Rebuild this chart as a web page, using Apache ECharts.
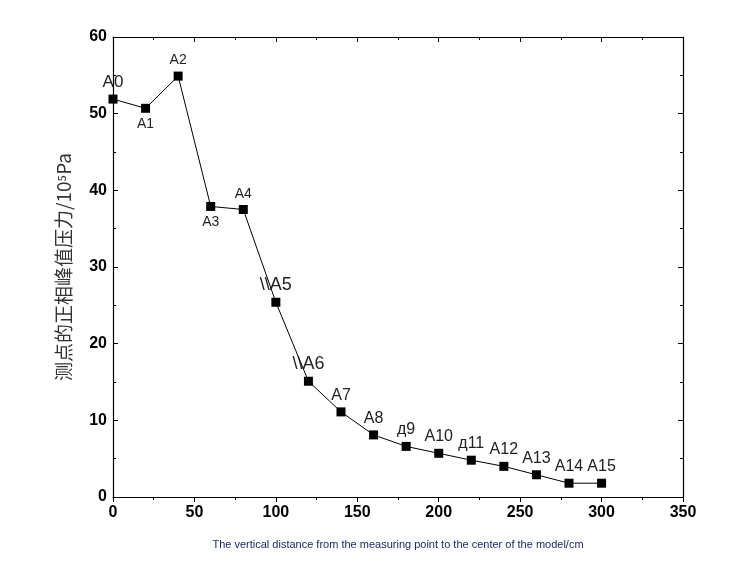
<!DOCTYPE html>
<html><head><meta charset="utf-8">
<script src="https://cdn.jsdelivr.net/npm/echarts@6/dist/echarts.min.js"></script>
<style>html,body{margin:0;padding:0;background:#fff}#c{width:745px;height:582px}</style>
</head><body><div id="c"></div>
<script>
const pointNames = ['A0','A1','A2','A3','A4','\\A5','\\A6','A7','A8','д9','A10','д11','A12','A13','A14','A15'];
const xValues = [0,20,40,60,80,100,120,140,160,180,200,220,240,260,280,300];
const yValues = [51.9,50.7,54.9,37.9,37.5,25.4,15.1,11.1,8.1,6.6,5.7,4.8,4.0,2.9,1.8,1.8];
// label style: [position, dx, dy, fontSize]
const labelStyle = [['top',12,2,17],['bottom',4,-2,14],['top',13,0,14],['bottom',-1,-4,14],['top',2,0,14],['top',6,-2,18],['top',5,-2,18],['top',8,0,16],['top',7,0,16],['top',2,0,16],['top',1,2,16],['top',0,2,16],['top',0,2,16],['top',10,2,16],['top',14,0,16],['top',15,-1,16]];
const chart = echarts.init(document.getElementById('c'));
const data = xValues.map((x,i)=>({value:[x,yValues[i]],
  label:{show:true,formatter:pointNames[i].replace(/\\/g,'\\\\'),position:labelStyle[i][0],offset:[labelStyle[i][1],labelStyle[i][2]],fontSize:labelStyle[i][3],color:'#222',fontFamily:'Arial',distance:4}}));
const axisCommon = {axisLine:{show:true,onZero:false,lineStyle:{color:'#000',width:1.2}},splitLine:{show:false}};
chart.setOption({
  animation:false,
  grid:{left:113,right:62,top:37,bottom:85},
  xAxis:[{type:'value',min:0,max:350,interval:50,...axisCommon,
    axisTick:{inside:false,length:5,lineStyle:{color:'#000'}},minorTick:{show:true,splitNumber:2,length:3,lineStyle:{color:'#000'}},
    axisLabel:{color:'#000',fontSize:16,fontWeight:'bold',fontFamily:'Arial',margin:8},
    name:'The vertical distance from the measuring point to the center of the model/cm',nameLocation:'middle',nameGap:42,
    nameTextStyle:{fontSize:11,color:'#1a2a6a',fontFamily:'Liberation Sans Narrow, Arial'}},
   {type:'value',position:'top',min:0,max:350,interval:50,...axisCommon,axisTick:{inside:true,length:5,lineStyle:{color:'#000'}},minorTick:{show:true,splitNumber:2,lineStyle:{color:'#000'}},axisLabel:{show:false}}],
  yAxis:[{type:'value',min:0,max:60,interval:10,...axisCommon,
    axisTick:{inside:true,length:5,lineStyle:{color:'#000'}},minorTick:{show:true,splitNumber:2,length:3,lineStyle:{color:'#000'}},
    axisLabel:{color:'#000',fontSize:16,fontWeight:'bold',fontFamily:'Arial',margin:6},
    name:'测点的正相峰值压力/10⁵Pa',nameLocation:'middle',nameGap:40,
    nameTextStyle:{fontSize:19,color:'#333',fontFamily:'Noto Sans CJK SC'}},
   {type:'value',position:'right',min:0,max:60,interval:10,...axisCommon,axisTick:{inside:true,length:5,lineStyle:{color:'#000'}},minorTick:{show:true,splitNumber:2,lineStyle:{color:'#000'}},axisLabel:{show:false}}],
  series:[{type:'line',data:data,symbol:'rect',symbolSize:9,itemStyle:{color:'#000'},lineStyle:{color:'#000',width:1},labelLayout:{hideOverlap:false}},
    {type:'line',xAxisIndex:1,yAxisIndex:1,data:[],silent:true}]
});
</script></body></html>
